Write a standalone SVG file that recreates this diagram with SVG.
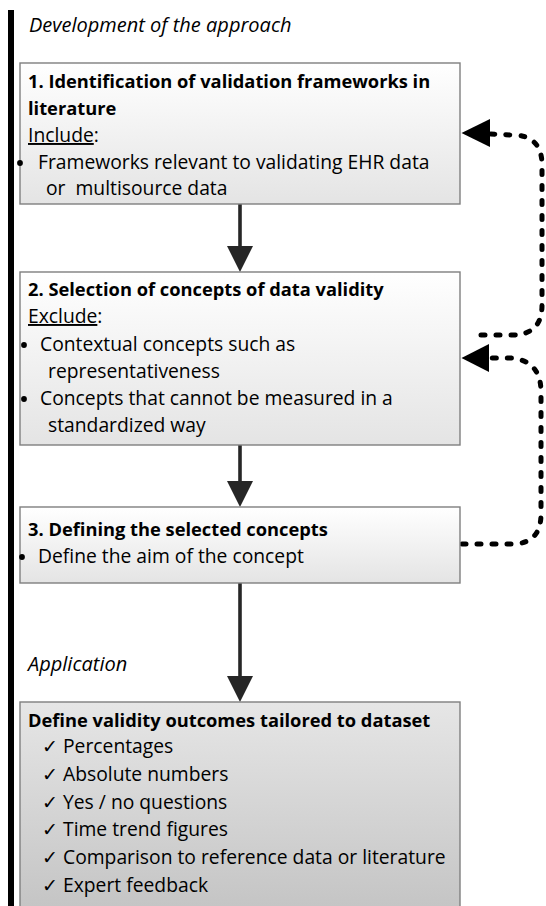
<svg xmlns="http://www.w3.org/2000/svg" width="546" height="906" viewBox="0 0 546 906">
<defs>
<linearGradient id="gLight" x1="0" y1="0" x2="0" y2="1">
<stop offset="0" stop-color="#ffffff"/>
<stop offset="1" stop-color="#e4e4e4"/>
</linearGradient>
<linearGradient id="gDark" x1="0" y1="0" x2="0" y2="1">
<stop offset="0" stop-color="#e6e6e6"/>
<stop offset="1" stop-color="#c4c4c4"/>
</linearGradient>
</defs>
<style>
text{font-family:"Open Sans","Liberation Sans",sans-serif;font-size:19.3px;fill:#000}
.b{font-weight:bold;font-size:18.3px}
.i{font-style:italic;font-size:20px}
.u{text-decoration:underline}
.pre{white-space:pre}
.box{stroke:#7f7f7f;stroke-width:1.4}
.solid{stroke:#262626;stroke-width:3.6;fill:none}
.head{fill:#262626}
.dot{fill:#000}
.dash{stroke:#000;stroke-width:5;fill:none;stroke-dasharray:4 11;stroke-linecap:round}
</style>
<rect x="8" y="10" width="6" height="896" fill="#000"/>
<text class="i" x="29" y="32">Development of the approach</text>
<text class="i" x="28" y="671">Application</text>

<g id="connectors">
<line class="solid" x1="240" y1="204" x2="240" y2="250"/>
<polygon class="head" points="227,246 253,246 240,272"/>
<line class="solid" x1="240" y1="444" x2="240" y2="485"/>
<polygon class="head" points="227,481 253,481 240,507"/>
<line class="solid" x1="240" y1="583" x2="240" y2="680"/>
<polygon class="head" points="227,676 253,676 240,702"/>
<path class="dash" d="M481,335 L512,335 Q542,335 542,305 L542,165 Q542,135 512,135 L490,134"/>
<polygon points="461.5,133 490,119 490,147" fill="#000"/>
<path class="dash" d="M462,544 L512,544 Q541,544 541,514 L541,392 Q541,360 510,358 L488,358"/>
<polygon points="461.5,358 489,344 489,372" fill="#000"/>
</g>

<g id="node1">
<rect class="box" x="20" y="63" width="440" height="141" fill="url(#gLight)"/>
<text class="b" x="28" y="88">1. Identification of validation frameworks in</text>
<text class="b" x="28" y="115">literature</text>
<text x="28" y="142"><tspan class="u">Include</tspan>:</text>
<circle class="dot" cx="20" cy="163" r="2.9"/>
<text x="38" y="169">Frameworks relevant to validating EHR data</text>
<text class="pre" x="46" y="195">or  multisource data</text>
</g>

<g id="node2">
<rect class="box" x="20" y="272" width="440" height="173" fill="url(#gLight)"/>
<text class="b" x="28" y="296">2. Selection of concepts of data validity</text>
<text x="28" y="323"><tspan class="u">Exclude</tspan>:</text>
<circle class="dot" cx="24" cy="345" r="2.9"/>
<text x="40" y="351">Contextual concepts such as</text>
<text x="48" y="378">representativeness</text>
<circle class="dot" cx="24" cy="399" r="2.9"/>
<text x="40" y="405">Concepts that cannot be measured in a</text>
<text x="48" y="432">standardized way</text>
</g>

<g id="node3">
<rect class="box" x="20" y="507" width="440" height="76" fill="url(#gLight)"/>
<text class="b" x="28" y="536">3. Defining the selected concepts</text>
<circle class="dot" cx="22" cy="557" r="2.9"/>
<text x="38" y="563">Define the aim of the concept</text>
</g>

<g id="node4">
<rect class="box" x="20" y="702" width="440" height="210" fill="url(#gDark)"/>
<text class="b" x="28" y="727">Define validity outcomes tailored to dataset</text>
<text x="42" y="753">✓ Percentages</text>
<text x="42" y="781">✓ Absolute numbers</text>
<text x="42" y="809">✓ Yes / no questions</text>
<text x="42" y="836">✓ Time trend figures</text>
<text x="42" y="864">✓ Comparison to reference data or literature</text>
<text x="42" y="892">✓ Expert feedback</text>
</g>
</svg>
